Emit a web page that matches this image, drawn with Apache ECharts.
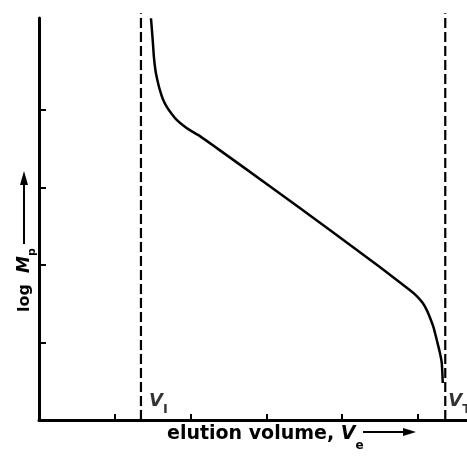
<!DOCTYPE html>
<html><head><meta charset="utf-8">
<script src="https://cdn.jsdelivr.net/npm/echarts@6/dist/echarts.min.js"></script>
<style>html,body{margin:0;padding:0;background:#fff}#c{width:467px;height:456px}</style>
</head><body><div id="c"></div>
<script>
// Calibration curve: log Mp vs elution volume Ve (arbitrary units)
const curveX = [1.478, 1.491, 1.504, 1.517, 1.537, 1.563, 1.596, 1.636, 1.689, 1.755, 1.821, 1.900, 1.992, 2.124, 2.348, 3.047, 3.839, 4.499, 4.894, 4.987, 5.066, 5.119, 5.158, 5.211, 5.251, 5.290, 5.317, 5.330];
const curveY = [5.187, 5.032, 4.865, 4.684, 4.516, 4.387, 4.258, 4.142, 4.039, 3.948, 3.871, 3.806, 3.742, 3.665, 3.510, 3.019, 2.452, 1.974, 1.677, 1.600, 1.510, 1.419, 1.329, 1.187, 1.032, 0.877, 0.735, 0.477];
// exclusion (V_I) and total permeation (V_T) volumes
const volumeNames = ['I', 'T'];
const volumeValues = [1.346, 5.363];
const yTickValues = [1, 2, 3, 4];
const xTickValues = [0, 1, 2, 3, 4, 5];
const dashTop = 5.25;
const xMax = 5.65, yMax = 5.19;

const labelOffsets = [[8, -20], [3, -20]];
const curveData = curveX.map((x, i) => [x, curveY[i]]);
const fontFam = 'DejaVu Sans';
const vRich = {
  v: { fontFamily: fontFam, fontSize: 18, fontWeight: 'bold', fontStyle: 'italic', color: '#000', verticalAlign: 'bottom', lineHeight: 20 },
  s: { fontFamily: fontFam, fontSize: 13, fontWeight: 'bold', color: '#000', verticalAlign: 'bottom', lineHeight: 14, padding: [0, 0, -6, 0] }
};

const dashSeries = volumeValues.map((v, i) => ({
  type: 'line',
  data: [[v, 0], [v, dashTop]],
  clip: false,
  symbol: 'none',
  silent: true,
  lineStyle: { color: '#000', width: 2.2, type: [10, 4] },
  z: 2
}));
const labelSeries = {
  type: 'scatter',
  symbolSize: 0,
  silent: true,
  clip: false,
  data: volumeValues.map((v, i) => ({
    value: [v, 0],
    label: {
      show: true, position: 'right', distance: 0, offset: labelOffsets[i],
      formatter: '{v|V}{s|' + volumeNames[i] + '}', rich: vRich
    }
  }))
};

const chart = echarts.init(document.getElementById('c'));
chart.setOption({
  animation: false,
  backgroundColor: '#fff',
  grid: { left: 39, right: 0, top: 18, bottom: 36, containLabel: false },
  xAxis: {
    type: 'value', min: 0, max: xMax, interval: 1,
    axisLine: { lineStyle: { color: '#000', width: 3 } },
    axisTick: { inside: true, length: 6, customValues: xTickValues, lineStyle: { color: '#000', width: 2 } },
    axisLabel: { show: false }, splitLine: { show: false }
  },
  yAxis: {
    type: 'value', min: 0, max: yMax, interval: 1,
    axisLine: { lineStyle: { color: '#000', width: 3 } },
    axisTick: { inside: true, length: 7, customValues: yTickValues, lineStyle: { color: '#000', width: 2 } },
    axisLabel: { show: false }, splitLine: { show: false }
  },
  series: [
    {
      type: 'line', data: curveData, smooth: 0.2,
      symbol: 'none', clip: false,
      lineStyle: { color: '#000', width: 2.5 }, z: 3
    },
    ...dashSeries,
    labelSeries
  ],
  graphic: [
    {
      type: 'text', x: 167, y: 424,
      style: {
        text: '{t|elution volume, }{v|V}{s|e}',
        rich: {
          t: { fontFamily: fontFam, fontSize: 19, fontWeight: 'bold', color: '#000', verticalAlign: 'bottom', lineHeight: 20 },
          v: { fontFamily: fontFam, fontSize: 19, fontWeight: 'bold', fontStyle: 'italic', color: '#000', verticalAlign: 'bottom', lineHeight: 20 },
          s: { fontFamily: fontFam, fontSize: 12, fontWeight: 'bold', color: '#000', verticalAlign: 'bottom', lineHeight: 14, padding: [0, 0, -8, 0] }
        }
      }
    },
    { type: 'line', shape: { x1: 363, y1: 432, x2: 406, y2: 432 }, style: { stroke: '#000', lineWidth: 2 } },
    { type: 'polygon', shape: { points: [[403, 428], [416, 432], [403, 436]] }, style: { fill: '#000' } },
    {
      type: 'text', x: 24, y: 312, rotation: Math.PI / 2,
      style: {
        text: '{t|log  }{v|M}{s|p}', textAlign: 'left', textVerticalAlign: 'middle',
        rich: {
          t: { fontFamily: fontFam, fontSize: 16, fontWeight: 'bold', color: '#000', verticalAlign: 'bottom', lineHeight: 18 },
          v: { fontFamily: fontFam, fontSize: 17, fontWeight: 'bold', fontStyle: 'italic', color: '#000', verticalAlign: 'bottom', lineHeight: 18 },
          s: { fontFamily: fontFam, fontSize: 11, fontWeight: 'bold', color: '#000', verticalAlign: 'bottom', lineHeight: 12, padding: [0, 0, -5, 0] }
        }
      }
    },
    { type: 'line', shape: { x1: 24, y1: 244, x2: 24, y2: 182 }, style: { stroke: '#000', lineWidth: 2 } },
    { type: 'polygon', shape: { points: [[20, 185], [24, 171], [28, 185]] }, style: { fill: '#000' } }
  ]
});
</script></body></html>
